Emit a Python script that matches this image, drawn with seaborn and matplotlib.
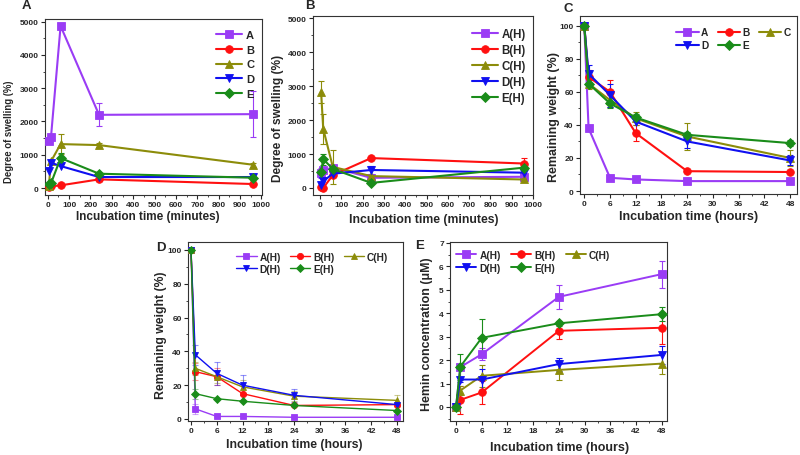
import numpy as np
import pandas as pd
import matplotlib
matplotlib.use('Agg')
import matplotlib.pyplot as plt
import seaborn as sns
from matplotlib.ticker import MultipleLocator, AutoMinorLocator

sns.set_theme(style='ticks')
plt.rcParams['font.family'] = ['Liberation Sans', 'DejaVu Sans']
plt.rcParams['font.weight'] = 'bold'
plt.rcParams['axes.labelweight'] = 'bold'

# ---------------- data ----------------
minutes = [5, 15, 60, 240, 960]
hours = [0, 1, 6, 12, 24, 48]
hours_e = [0, 1, 6, 24, 48]

labels_plain = ['A', 'B', 'C', 'D', 'E']
labels_h = ['A(H)', 'B(H)', 'C(H)', 'D(H)', 'E(H)']

# Panel A: degree of swelling (%)
swell_A = [1400, 1530, 4870, 2200, 2220]
swell_B = [20, 50, 80, 260, 120]
swell_C = [60, 800, 1320, 1290, 700]
swell_D = [500, 760, 660, 330, 330]
swell_E = [110, 140, 900, 430, 310]
swell_err = [[0, 0, 0, 350, 700], [0, 0, 0, 50, 0], [0, 0, 300, 60, 60], [0, 0, 0, 0, 0], [0, 0, 150, 0, 0]]

# Panel B: degree of swelling (%) with hemin
swellH_A = [440, 520, 600, 300, 330]
swellH_B = [20, 0, 380, 880, 720]
swellH_C = [2830, 1740, 620, 350, 250]
swellH_D = [100, 200, 420, 530, 450]
swellH_E = [480, 850, 560, 150, 600]
swellH_err = [[150, 0, 0, 0, 0], [0, 0, 0, 0, 150], [330, 450, 500, 0, 0], [0, 0, 0, 120, 200], [0, 160, 0, 0, 0]]

# Panel C: remaining weight (%)
rem_A = [100, 38, 8, 7, 6, 6]
rem_B = [100, 69, 60, 35, 12, 11.5]
rem_C = [100, 65, 55, 44, 33, 20]
rem_D = [100, 71, 58, 42, 30, 18.5]
rem_E = [100, 65, 53, 44.5, 34, 29]
rem_err = [[0, 0, 0, 0, 0, 0], [0, 4, 7, 5, 0, 0], [0, 3, 4, 4, 8, 5], [0, 5, 7, 0, 4, 3], [0, 2, 3, 2, 2, 2]]

# Panel D: remaining weight (%) with hemin
remH_A = [100, 6, 1.5, 1.5, 1, 1]
remH_B = [100, 28, 25, 15, 8, 8.5]
remH_C = [100, 30, 25, 19, 13.5, 11]
remH_D = [100, 38, 27, 20, 14, 8.5]
remH_E = [100, 15, 12, 10.5, 8, 5]
remH_err = [[0, 3, 0, 0, 0, 0], [0, 5, 5, 0, 0, 0], [0, 4, 4, 4, 3, 3], [0, 6, 7, 6, 4, 0], [0, 3, 0, 0, 0, 0]]

# Panel E: hemin concentration (uM)
hem_A = [0, 1.7, 2.25, 4.7, 5.67]
hem_B = [0, 0.3, 0.62, 3.25, 3.38]
hem_C = [0, 0.7, 1.33, 1.58, 1.85]
hem_D = [0, 1.17, 1.17, 1.83, 2.22]
hem_E = [0, 1.72, 2.95, 3.57, 3.96]
hem_err = [[0, 0.1, 0.25, 0.5, 0.58], [0, 0.6, 0.48, 0.35, 0.68], [0, 0.2, 0.48, 0.42, 0.45],
           [0, 0.1, 0.45, 0.28, 0.38], [0, 0.55, 0.82, 0.1, 0.3]]

colors = ['#9a3cf5', '#ff1010', '#8c8c0a', '#1010f0', '#1a8c1a']
markers = ['s', 'o', '^', 'v', 'D']

W, H = 800, 456
fig = plt.figure(figsize=(8, 4.56), dpi=100)


def add_ax(l, r, t, b):
    return fig.add_axes([l / W, 1 - b / H, (r - l) / W, (b - t) / H])


def draw(ax, x, values, errs, labels, lw, ms, ealpha=1.0, cap=2.2):
    for lab, vals, err, col, mk in zip(labels, values, errs, colors, markers):
        df = pd.DataFrame({'time': x, 'value': vals})
        e = np.array(err, dtype=float)
        e[e == 0] = np.nan
        ax.errorbar(df['time'], df['value'], yerr=e, fmt='none', ecolor=col,
                    elinewidth=0.8, capsize=cap, capthick=0.8, alpha=ealpha, zorder=2)
        sns.lineplot(data=df, x='time', y='value', ax=ax, color=col, marker=mk,
                     markersize=ms if mk != 'D' else ms * 0.85, markeredgecolor=col,
                     markeredgewidth=0.6, linewidth=lw, label=lab, zorder=3)


def style(ax, xlim, ylim, xmaj, ymaj, xlabel, ylabel, xl_pos, yl_pos, xl_fs, yl_fs):
    ax.set_xlim(*xlim)
    ax.set_ylim(*ylim)
    ax.xaxis.set_major_locator(MultipleLocator(xmaj))
    ax.yaxis.set_major_locator(MultipleLocator(ymaj))
    ax.xaxis.set_minor_locator(AutoMinorLocator(2))
    ax.yaxis.set_minor_locator(AutoMinorLocator(2))
    ax.tick_params(which='major', direction='out', length=3, width=0.8, labelsize=6, pad=1.5)
    ax.tick_params(which='minor', direction='out', length=1.6, width=0.6)
    for lbl in ax.get_xticklabels() + ax.get_yticklabels():
        lbl.set_fontweight('bold')
    for s in ax.spines.values():
        s.set_linewidth(0.8)
        s.set_color('#333333')
    ax.set_xlabel(xlabel, fontsize=xl_fs, fontweight='bold', va='center')
    ax.set_ylabel(ylabel, fontsize=yl_fs, fontweight='bold', va='center')
    ax.xaxis.set_label_coords(*xl_pos)
    ax.yaxis.set_label_coords(*yl_pos)


def row_major_legend(ax, **kw):
    h, l = ax.get_legend_handles_labels()
    order = [0, 3, 1, 4, 2]
    ax.legend([h[i] for i in order], [l[i] for i in order], ncol=3, frameon=False, **kw)


# Panel A
axA = add_ax(45, 262, 20, 196)
draw(axA, minutes, [swell_A, swell_B, swell_C, swell_D, swell_E], swell_err, labels_plain, 1.5, 5.5)
style(axA, (-13, 1003), (-210, 5080), 100, 1000, 'Incubation time (minutes)', 'Degree of swelling (%)',
      (0.472, -0.122), (-0.166, 0.365), 8.5, 6.9)
axA.legend(loc='upper right', bbox_to_anchor=(0.995, 0.975), frameon=False,
           handlelength=2.3, labelspacing=0.42, handletextpad=0.4, borderaxespad=0.2,
           prop={'weight': 'bold', 'size': 8})

# Panel B
axB = add_ax(313, 533, 17, 196)
draw(axB, minutes, [swellH_A, swellH_B, swellH_C, swellH_D, swellH_E], swellH_err, labels_h, 1.5, 5.5)
style(axB, (-33, 1000), (-206, 5060), 100, 1000, 'Incubation time (minutes)', 'Degree of swelling (%)',
      (0.505, -0.134), (-0.161, 0.434), 8.8, 8.6)
axB.legend(loc='upper right', bbox_to_anchor=(1.0, 0.97), frameon=False,
           handlelength=2.3, labelspacing=0.35, handletextpad=0.3, borderaxespad=0.2,
           prop={'weight': 'bold', 'size': 8.3})

# Panel C
axC = add_ax(580, 797, 17, 195)
draw(axC, hours, [rem_A, rem_B, rem_C, rem_D, rem_E], rem_err, labels_plain, 1.5, 5.5)
style(axC, (-1, 49.6), (-1.8, 105.9), 6, 20, 'Incubation time (hours)', 'Remaining weight (%)',
      (0.498, -0.126), (-0.122, 0.44), 9, 9)
row_major_legend(axC, loc='upper right', bbox_to_anchor=(1.0, 0.97),
                 handlelength=2.2, labelspacing=0.3, handletextpad=0.25, columnspacing=0.9, borderaxespad=0.2,
                 prop={'weight': 'bold', 'size': 7.3})

# Panel D
axD = add_ax(188, 403, 243, 422)
draw(axD, hours, [remH_A, remH_B, remH_C, remH_D, remH_E], remH_err, labels_h, 1.0, 4.5, ealpha=0.45)
style(axD, (-0.7, 49.4), (-1.2, 104.7), 6, 20, 'Incubation time (hours)', 'Remaining weight (%)',
      (0.493, -0.128), (-0.126, 0.486), 8.8, 8.8)
row_major_legend(axD, loc='upper right', bbox_to_anchor=(0.96, 0.98),
                 handlelength=2.0, labelspacing=0.2, handletextpad=0.3, columnspacing=0.9, borderaxespad=0.2,
                 prop={'weight': 'bold', 'size': 7.3})

# Panel E
axE = add_ax(450, 667, 243, 422)
draw(axE, hours_e, [hem_A, hem_B, hem_C, hem_D, hem_E], hem_err, labels_h, 1.4, 5.5)
style(axE, (-1.4, 49.2), (-0.6, 7.04), 6, 1, 'Incubation time (hours)', 'Hemin concentration (\u03bcM)',
      (0.507, -0.148), (-0.104, 0.49), 9, 8.9)
row_major_legend(axE, loc='upper left', bbox_to_anchor=(0.0, 0.99),
                 handlelength=2.0, labelspacing=0.3, handletextpad=0.3, columnspacing=1.0, borderaxespad=0.2,
                 prop={'weight': 'bold', 'size': 7.3})

# panel letters
for letter, (px, py) in zip(['A', 'B', 'C', 'D', 'E'],
                            [(26, 6), (310, 6), (568, 9), (161, 248), (420, 246)]):
    fig.text(px / W, 1 - py / H, letter, fontsize=9.5, fontweight='bold', ha='center', va='center')

fig.savefig('out.png', dpi=100)
